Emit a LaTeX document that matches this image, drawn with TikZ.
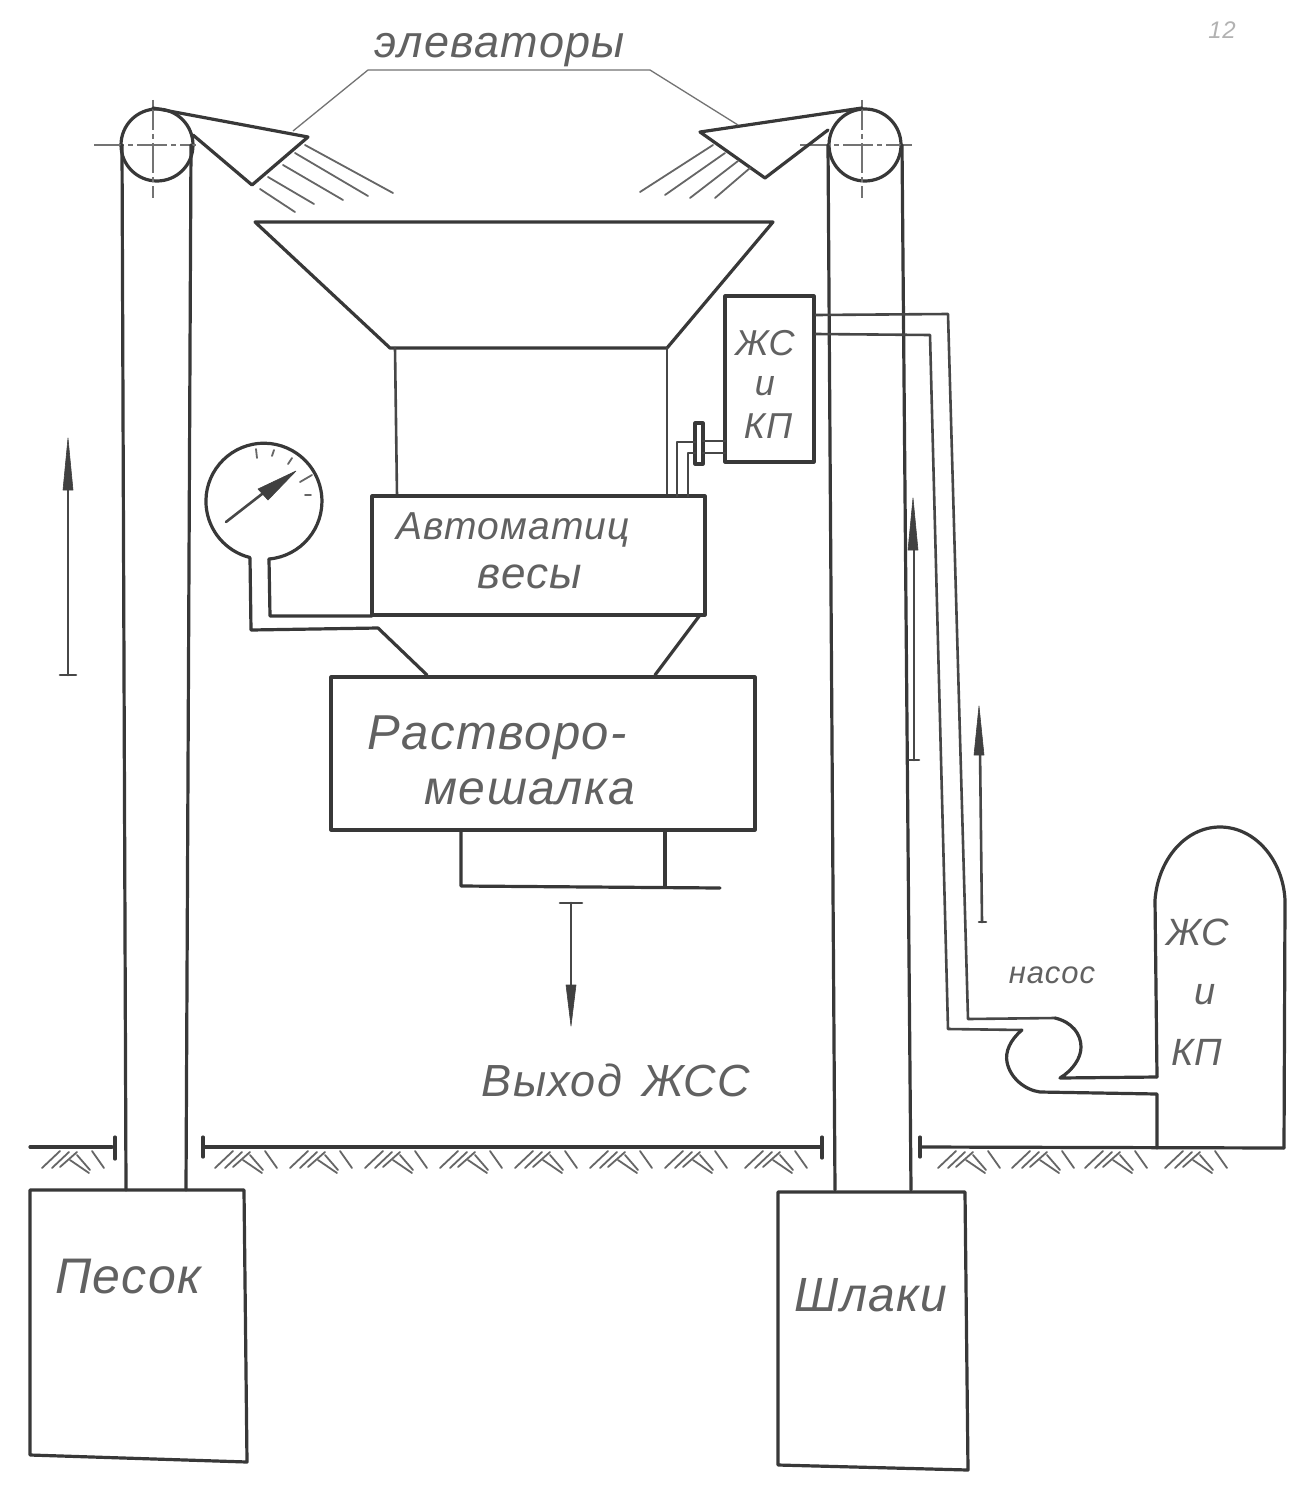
\documentclass[tikz,border=0pt]{standalone}
\usepackage{fontspec}
\setmainfont{Liberation Sans}
\newfontfamily\hand{Liberation Sans}[LetterSpace=3]
\tikzset{
  ln/.style={draw=black!78,line width=3.2pt,line join=round,line cap=round},
  thn/.style={draw=black!72,line width=2.6pt,line cap=round,line join=round},
  hair/.style={draw=black!55,line width=1.3pt},
  hat/.style={draw=black!60,line width=1.8pt,line cap=round},
  ctr/.style={draw=black!55,line width=1.3pt},
  lbl/.style={inner sep=0pt,text=black!62},
  tip/.style={fill=black!75,draw=black!75,line width=.6pt,line join=round},
}
\newcommand{\fs}[1]{\itshape\fontsize{#1}{#1}\selectfont}
\newcommand{\hatchgroup}[1]{%
  \begin{scope}[shift={(#1,0)}]
    \draw[hat] (0,1168) -- (18,1151);
    \draw[hat] (10,1168) -- (27,1152);
    \draw[hat] (18,1167) -- (35,1152);
    \draw[hat] (28,1160) -- (47,1173);
    \draw[hat] (35,1155) -- (48,1170);
    \draw[hat] (50,1151) -- (62,1168);
  \end{scope}}
\begin{document}
\begin{tikzpicture}[x=1pt,y=-1pt]
\useasboundingbox[fill=white] (0,0) rectangle (1311,1485);
% ---------- left elevator
\draw[ln] (157,145) circle[radius=36];
\draw[ctr,dash pattern=on 30pt off 4pt on 5pt off 4pt] (94,145) -- (196,145);
\draw[ctr,dash pattern=on 30pt off 4pt on 5pt off 4pt] (153,100) -- (153,198);
\draw[ln] (122,145) -- (126,1190);
\draw[ln] (191,145) -- (186,1190);
\draw[ln] (153,108) -- (308,137) -- (252,185) -- (193,135);
\draw[hat] (305,145) -- (393,193);
\draw[hat] (295,153) -- (368,196);
\draw[hat] (283,165) -- (343,200);
\draw[hat] (268,177) -- (314,204);
\draw[hat] (260,189) -- (295,212);
% ---------- right elevator
\draw[ln] (865,145) circle[radius=36];
\draw[ctr,dash pattern=on 30pt off 4pt on 5pt off 4pt] (800,145) -- (912,145);
\draw[ctr,dash pattern=on 30pt off 4pt on 5pt off 4pt] (862,100) -- (862,198);
\draw[ln] (828,145) -- (835,1190);
\draw[ln] (902,145) -- (911,1190);
\draw[ln] (862,108) -- (700,132) -- (765,178) -- (828,130);
\draw[hat] (713,145) -- (640,192);
\draw[hat] (725,153) -- (665,195);
\draw[hat] (738,161) -- (690,198);
\draw[hat] (750,168) -- (715,198);
% ---------- label and leaders
\node[lbl] (elev) at (500,50) {\hand\fs{45}элеваторы};
\coordinate (l1) at (368,70); \coordinate (l2) at (650,70);
\draw[hair] (293,131) -- (l1) -- (l2) -- (738,125);
% ---------- hopper
\draw[ln] (255,222) -- (773,222) -- (667,348) -- (390,348) -- cycle;
\draw[thn] (395,348) -- (397,496);
\draw[thn] (667,348) -- (667,496);
% ---------- scales
\draw[ln] (372,496) -- (705,496) -- (705,615) -- (372,615) -- cycle;
\node[lbl] (avt) at (513,530) {\hand\fs{39}Автоматиц};
\node[lbl] (ves) at (530,577) {\hand\fs{44}весы};
% ---------- gauge
\draw[ln] (269,559) arc[start angle=85,end angle=-256,radius=58];
\draw[ln] (269,559) -- (270,616) -- (372,616);
\draw[ln] (250,558) -- (251,630) -- (378,628) -- (427,675);
\draw[ln] (700,615) -- (655,675);
\draw[thn] (226,522) -- (262,494);
\draw[tip] (296,471) -- (258,489) -- (268,500) -- cycle;
\draw[hat] (256,449) -- (257,458);
\draw[hat] (274,450) -- (272,456);
\draw[hat] (292,458) -- (288,464);
\draw[hat] (300,482) -- (312,475);
\draw[hat] (305,495) -- (311,495);
% ---------- valve and liquid box
\draw[ln] (725,296) -- (814,296) -- (814,462) -- (725,462) -- cycle;
\node[lbl] (zs) at (765,343) {\hand\fs{36}ЖС};
\node[lbl] (i1) at (765,386) {\hand\fs{36}и};
\node[lbl] (kp) at (768,426) {\hand\fs{36}КП};
\draw[ln] (695,423) rectangle (703,464);
\draw[thn] (703,441) -- (725,441);
\draw[thn] (703,453) -- (725,453);
\draw[thn] (677,496) -- (677,442) -- (695,442);
\draw[thn] (688,496) -- (688,453) -- (695,453);
% ---------- mixer
\draw[ln] (331,677) -- (755,677) -- (755,830) -- (331,830) -- cycle;
\node[lbl] (r1) at (497,738) {\hand\fs{49}Растворо-};
\node[lbl] (r2) at (530,792) {\hand\fs{48}мешалка};
\draw[ln] (461,830) -- (461,886) -- (720,888);
\draw[ln] (665,830) -- (665,886);
% ---------- pipes and pump
\draw[thn] (816,315) -- (948,314) -- (968,1019) -- (1055,1018);
\draw[thn] (816,334) -- (930,335) -- (948,1029) -- (1022,1030);
\draw[ln] (1022,1030) .. controls (1010,1040) and (1005,1052) .. (1007,1062)
  .. controls (1010,1078) and (1025,1090) .. (1040,1092) -- (1157,1094) -- (1157,1148);
\draw[ln] (1055,1018) .. controls (1072,1022) and (1081,1034) .. (1081,1047)
  .. controls (1081,1058) and (1073,1070) .. (1060,1078) -- (1157,1077);
\node[lbl] (nas) at (1052,975) {\hand\fs{31}насос};
% ---------- tank
\draw[ln] (1157,1077) -- (1155,900) .. controls (1158,860) and (1185,827) .. (1220,827)
  .. controls (1255,827) and (1283,860) .. (1285,900) -- (1284,1148);
\node[lbl] (zs2) at (1198,932) {\hand\fs{38}ЖС};
\node[lbl] (i2) at (1205,995) {\hand\fs{38}и};
\node[lbl] (kp2) at (1197,1052) {\hand\fs{38}КП};
% ---------- flow arrows
\draw[thn] (68,675) -- (68,470);
\draw[tip] (68,438) -- (63,490) -- (73,490) -- cycle;
\draw[thn] (60,675) -- (76,675);
\draw[thn] (571,903) -- (571,1000);
\draw[tip] (571,1026) -- (566,985) -- (576,985) -- cycle;
\draw[thn] (560,903) -- (582,903);
\draw[thn] (914,760) -- (914,540);
\draw[tip] (913,498) -- (908,550) -- (918,550) -- cycle;
\draw[thn] (909,760) -- (919,760);
\draw[thn] (982,922) -- (980,750);
\draw[tip] (979,706) -- (974,755) -- (984,755) -- cycle;
\draw[thn] (979,922) -- (986,922);
\node[lbl] (out) at (616,1080) {\hand\fs{45}Выход\hspace{20pt}ЖСС};
% ---------- ground
\draw[ln] (30,1147) -- (112,1147);
\draw[ln] (115,1137) -- (115,1159);
\draw[ln] (203,1147) -- (820,1147);
\draw[ln] (203,1137) -- (203,1157);
\draw[ln] (822,1137) -- (822,1158);
\draw[ln] (920,1147) -- (1284,1148);
\draw[ln] (920,1137) -- (920,1157);
\hatchgroup{42}
\foreach \gx in {215,290,365,440,515,590,665,745} {\hatchgroup{\gx}}
\foreach \gx in {938,1012,1085,1165} {\hatchgroup{\gx}}
% ---------- bins
\draw[ln] (30,1190) -- (244,1190) -- (247,1462) -- (30,1455) -- cycle;
\node[lbl] (sand) at (128,1277) {\hand\fs{50}Песок};
\draw[ln] (778,1192) -- (965,1192) -- (968,1470) -- (778,1465) -- cycle;
\node[lbl] (slag) at (871,1295) {\hand\fs{48}Шлаки};
\node[lbl,text=black!30] (pg) at (1222,30) {\hand\fs{24}12};
\end{tikzpicture}
\end{document}
